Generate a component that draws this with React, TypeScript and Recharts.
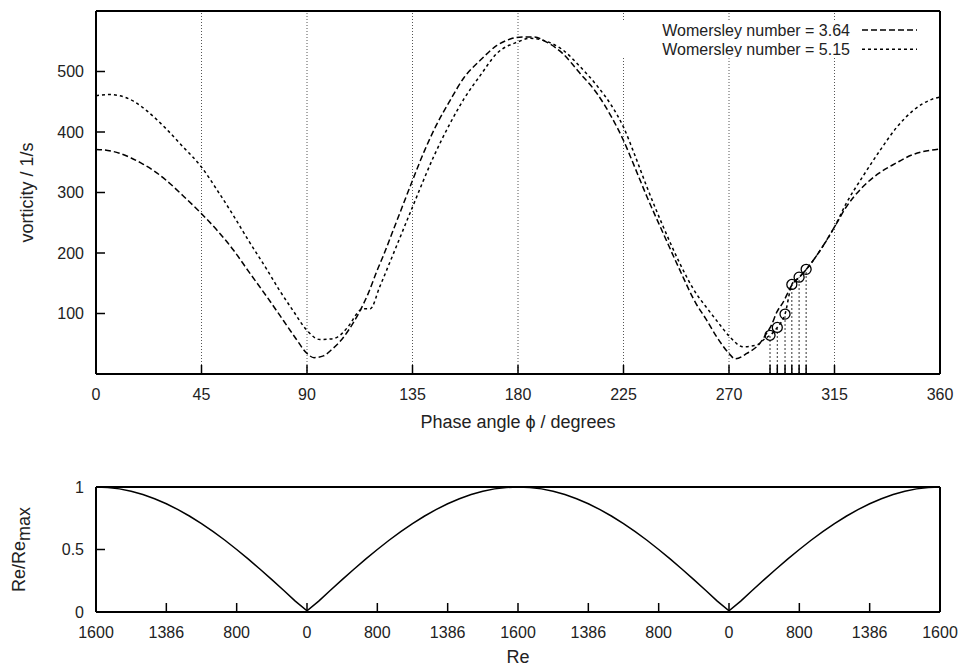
import React from "react";
import { ComposedChart, LineChart, Line, XAxis, YAxis, ReferenceLine, Legend } from "recharts";

const FONT = "'Liberation Sans', Arial, Helvetica, sans-serif";
const INK = "#000";
const TEXT = "#222";
const TICK = 9;

// upper panel: vorticity against phase angle
const PHASE_TICKS = [0, 45, 90, 135, 180, 225, 270, 315, 360];
const GRID_PHASES = [45, 90, 135, 180, 225, 270, 315];
const VORT_TICKS = [100, 200, 300, 400, 500];

const WO364_PHASE = [0, 5, 10, 15, 20, 25, 30, 37, 45, 52, 58.6, 65, 73, 80, 85, 90, 93, 97, 101, 105, 108, 112, 116, 120, 122.6, 127, 130, 135, 140, 145, 151, 157, 164, 171, 177, 182, 187, 192, 199, 206, 214, 220, 225, 230, 235, 242, 249, 256, 260, 265, 270, 272.6, 277.6, 283, 286, 288, 290.5, 293, 297, 300, 303, 309, 315, 320, 327, 334, 341, 348, 356, 360];
const WO364_VORT = [371, 369.5, 365, 357, 347, 335, 320, 295, 265, 236, 205, 170, 127, 88, 60, 34, 27, 30, 42, 58, 74, 100, 132, 172, 196, 240, 270, 320, 368, 410, 452, 490, 519, 543, 554, 557, 557, 549, 530, 499, 462, 424, 386, 340, 293, 232, 172, 116, 92, 60, 34, 25, 34, 50, 67, 80, 103, 118, 148, 160, 173, 205, 243, 276, 309, 332, 348, 362, 370, 372];

const WO515_PHASE = [0, 6, 10, 16, 22, 30, 37, 45, 52, 58.6, 65, 73, 78, 84, 90, 95.5, 100, 103, 107.5, 112.5, 114, 117, 121, 127.5, 135, 144, 151, 157, 164, 171, 180, 185, 192, 199, 206, 214, 220, 225, 230, 235, 242, 249, 256, 260, 265, 270, 276, 282, 285.5, 287.5, 290.6, 293.9, 296.8, 300, 303, 309, 315, 320, 327, 334.5, 341.6, 348.7, 356.5, 360];
const WO515_VORT = [460, 462, 460, 451, 434, 405, 376, 342, 302, 262, 221, 172, 140, 105, 72, 57, 58, 61, 78, 105, 108, 108, 144, 205, 276, 359, 414, 455, 494, 530, 549, 555, 550, 536, 510, 475, 443, 408, 360, 309, 243, 183, 133, 112, 87, 63, 45, 48, 59, 64, 77, 99, 148, 160, 173, 205, 243, 282, 326, 370, 408, 436, 454, 458];

const MARK_PHASE = [287.5, 290.6, 293.9, 296.8, 299.9, 302.9];
const MARK_VORT = [64, 77, 99, 148, 160, 173];

// lower panel: Re/Re_max against phase angle
const RE_PHASE = [0, 5, 10, 15, 20, 25, 30, 35, 40, 45, 50, 55, 60, 65, 70, 75, 80, 85, 90, 95, 100, 105, 110, 115, 120, 125, 130, 135, 140, 145, 150, 155, 160, 165, 170, 175, 180, 185, 190, 195, 200, 205, 210, 215, 220, 225, 230, 235, 240, 245, 250, 255, 260, 265, 270, 275, 280, 285, 290, 295, 300, 305, 310, 315, 320, 325, 330, 335, 340, 345, 350, 355, 360];
const RE_RATIO = [1, 0.996, 0.985, 0.966, 0.94, 0.906, 0.866, 0.819, 0.766, 0.707, 0.643, 0.574, 0.5, 0.423, 0.342, 0.259, 0.174, 0.087, 0.01, 0.087, 0.174, 0.259, 0.342, 0.423, 0.5, 0.574, 0.643, 0.707, 0.766, 0.819, 0.866, 0.906, 0.94, 0.966, 0.985, 0.996, 1, 0.996, 0.985, 0.966, 0.94, 0.906, 0.866, 0.819, 0.766, 0.707, 0.643, 0.574, 0.5, 0.423, 0.342, 0.259, 0.174, 0.087, 0.01, 0.087, 0.174, 0.259, 0.342, 0.423, 0.5, 0.574, 0.643, 0.707, 0.766, 0.819, 0.866, 0.906, 0.94, 0.966, 0.985, 0.996, 1];
const RE_TICK_PHASE = [0, 30, 60, 90, 120, 150, 180, 210, 240, 270, 300, 330, 360];
const RE_TICK_LABELS = ["1600", "1386", "800", "0", "800", "1386", "1600", "1386", "800", "0", "800", "1386", "1600"];
const RATIO_TICKS = [0, 0.5, 1];

const SERIES = [
  { name: "Womersley number = 3.64", dash: "6 3", phase: WO364_PHASE, vort: WO364_VORT },
  { name: "Womersley number = 5.15", dash: "3 3", phase: WO515_PHASE, vort: WO515_VORT },
];

const zip = (xs: number[], ys: number[]) => xs.map((x, i) => ({ phase: x, v: ys[i] }));
const markers = zip(MARK_PHASE, MARK_VORT);
const reData = zip(RE_PHASE, RE_RATIO);
const bottomTicks = [...PHASE_TICKS, ...MARK_PHASE].sort((a, b) => a - b);

const txt = { fontFamily: FONT, fontSize: 16, fill: TEXT };
const title = { fontFamily: FONT, fontSize: 18, fill: TEXT };

const BottomTick = ({ x, y, payload, index, labelOf }: any) => {
  const label = labelOf(payload.value, index);
  return (
    <g>
      <line x1={x} y1={y} x2={x} y2={y - TICK} stroke={INK} strokeWidth={1.5} />
      {label != null && (
        <text x={x} y={y + 20} dy="0.35em" textAnchor="middle" {...txt}>{label}</text>
      )}
    </g>
  );
};

const TopTick = ({ x, y }: any) => (
  <line x1={x} y1={y} x2={x} y2={y + TICK} stroke={INK} strokeWidth={1.5} />
);

const LeftTick = ({ x, y, payload }: any) => (
  <g>
    <line x1={x} y1={y} x2={x + TICK} y2={y} stroke={INK} strokeWidth={1.5} />
    <text x={x - 12} y={y} dy="0.35em" textAnchor="end" {...txt}>{String(payload.value)}</text>
  </g>
);

const RightTick = ({ x, y }: any) => (
  <line x1={x} y1={y} x2={x - TICK} y2={y} stroke={INK} strokeWidth={1.5} />
);

const LegendBox = () => (
  <svg width={326} height={37} style={{ display: "block", background: "#fff" }}>
    {SERIES.map((s, i) => (
      <g key={s.name}>
        <text x={238} y={10 + i * 19.3} dy="0.35em" textAnchor="end" {...txt}>{s.name}</text>
        <line x1={250} x2={305} y1={10 + i * 19.3} y2={10 + i * 19.3} stroke={INK} strokeWidth={1.5} strokeDasharray={s.dash} />
      </g>
    ))}
  </svg>
);

const axisLine = { stroke: INK, strokeWidth: 2 };

export default function App() {
  return (
    <div style={{ position: "absolute", left: 0, top: 0, width: 961, height: 667, background: "#fff" }}>
      <div style={{ position: "absolute", left: 0, top: 0 }}>
        <ComposedChart width={961} height={440} margin={{ top: 10, right: 20, bottom: 0, left: 0 }}>
          <XAxis
            type="number" dataKey="phase" domain={[0, 360]} ticks={bottomTicks} interval={0}
            height={66} tickSize={0} tickMargin={0} axisLine={axisLine} tickLine={false}
            tick={(p: any) => <BottomTick {...p} labelOf={(v: number) => (PHASE_TICKS.includes(v) ? String(v) : null)} />}
            label={{
              content: ({ viewBox }: any) => (
                <text x={viewBox.x + viewBox.width / 2} y={viewBox.y + 48} dy="0.35em" textAnchor="middle" {...title}>
                  Phase angle {"\u03D5"} / degrees
                </text>
              ),
            }}
          />
          <XAxis
            xAxisId="top" orientation="top" type="number" domain={[0, 360]} ticks={PHASE_TICKS} interval={0}
            height={1} tickSize={0} tickMargin={0} axisLine={axisLine} tickLine={false} tick={(p: any) => <TopTick {...p} />}
          />
          <YAxis
            type="number" domain={[0, 600]} ticks={VORT_TICKS} interval={0} width={96}
            tickSize={0} tickMargin={0} axisLine={axisLine} tickLine={false} tick={(p: any) => <LeftTick {...p} />}
            label={{
              content: ({ viewBox }: any) => {
                const cx = 27;
                const cy = viewBox.y + viewBox.height / 2;
                return (
                  <text x={cx} y={cy} dy="0.35em" textAnchor="middle" transform={`rotate(-90 ${cx} ${cy})`} {...title}>
                    vorticity / 1/s
                  </text>
                );
              },
            }}
          />
          <YAxis
            yAxisId="right" orientation="right" type="number" domain={[0, 600]} ticks={VORT_TICKS} interval={0}
            width={1} tickSize={0} tickMargin={0} axisLine={axisLine} tickLine={false} tick={(p: any) => <RightTick {...p} />}
          />
          {GRID_PHASES.map((g) => (
            <ReferenceLine key={g} x={g} stroke="#555" strokeWidth={1} strokeDasharray="1 2" />
          ))}
          {markers.map((m) => (
            <ReferenceLine
              key={m.phase}
              segment={[{ x: m.phase, y: 0 }, { x: m.phase, y: m.v }]}
              stroke="#333" strokeWidth={1} strokeDasharray="2 2"
            />
          ))}
          {SERIES.map((s) => (
            <Line
              key={s.name} name={s.name} data={zip(s.phase, s.vort)} dataKey="v" type="monotone"
              stroke={INK} strokeWidth={1.5} strokeDasharray={s.dash} dot={false} isAnimationActive={false}
            />
          ))}
          <Line
            data={markers} dataKey="v" stroke="none" legendType="none" isAnimationActive={false}
            dot={{ r: 5, fill: "none", stroke: INK, strokeWidth: 1.3 }}
          />
          <Legend
            layout="horizontal" verticalAlign="middle" align="center"
            wrapperStyle={{ top: 20, left: 612, width: 326, height: 37 }}
            content={() => <LegendBox />}
          />
        </ComposedChart>
      </div>
      <div style={{ position: "absolute", left: 0, top: 440 }}>
        <LineChart width={961} height={227} data={reData} margin={{ top: 46, right: 20, bottom: 0, left: 0 }}>
          <XAxis
            type="number" dataKey="phase" domain={[0, 360]} ticks={RE_TICK_PHASE} interval={0}
            height={55} tickSize={0} tickMargin={0} axisLine={axisLine} tickLine={false}
            tick={(p: any) => <BottomTick {...p} labelOf={(_v: number, i: number) => RE_TICK_LABELS[i]} />}
            label={{
              content: ({ viewBox }: any) => (
                <text x={viewBox.x + viewBox.width / 2} y={viewBox.y + 45} dy="0.35em" textAnchor="middle" {...title}>Re</text>
              ),
            }}
          />
          <XAxis xAxisId="top" orientation="top" type="number" domain={[0, 360]} height={1} axisLine={axisLine} tick={false} tickLine={false} />
          <YAxis
            type="number" domain={[0, 1]} ticks={RATIO_TICKS} interval={0} width={96}
            tickSize={0} tickMargin={0} axisLine={axisLine} tickLine={false} tick={(p: any) => <LeftTick {...p} />}
            label={{
              content: ({ viewBox }: any) => {
                const cx = 19;
                const cy = viewBox.y + viewBox.height / 2;
                return (
                  <text x={cx} y={cy} dy="0.35em" textAnchor="middle" transform={`rotate(-90 ${cx} ${cy})`} {...title}>
                    Re/Re<tspan dy="5">max</tspan>
                  </text>
                );
              },
            }}
          />
          <YAxis
            yAxisId="right" orientation="right" type="number" domain={[0, 1]} ticks={[0.5]} interval={0}
            width={1} tickSize={0} tickMargin={0} axisLine={axisLine} tickLine={false} tick={(p: any) => <RightTick {...p} />}
          />
          <Line dataKey="v" type="linear" stroke={INK} strokeWidth={1.5} dot={false} isAnimationActive={false} />
        </LineChart>
      </div>
    </div>
  );
}
